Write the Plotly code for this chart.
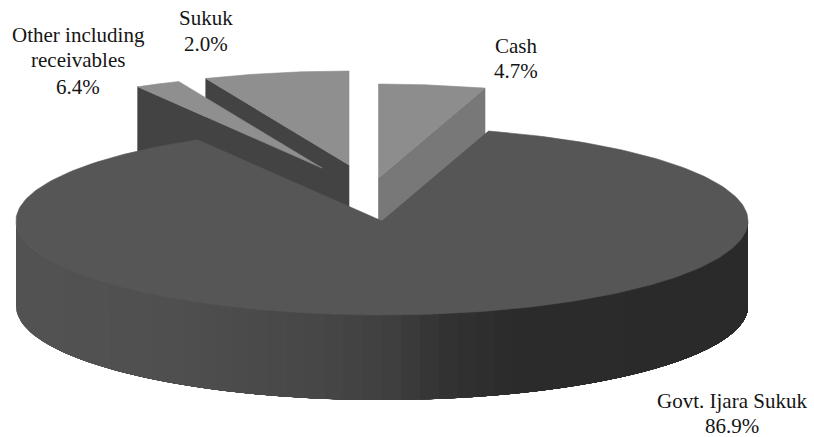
import numpy as np
import plotly.graph_objects as go

# Data (clockwise from 12 o'clock)
slice_names = ["Cash", "Govt. Ijara Sukuk", "Small slice", "Large slice"]
slice_shares = [4.7, 86.9, 2.0, 6.4]

label_lines = [
    ("Sukuk", 206, 18), ("2.0%", 206, 44),
    ("Other including", 78, 35), ("receivables", 78, 60), ("6.4%", 78, 87),
    ("Cash", 516, 46), ("4.7%", 516, 71),
    ("Govt. Ijara Sukuk", 732, 401), ("86.9%", 732, 426),
]

# Drawing geometry of the oblique pie
RX, RY, DEPTH = 366, 94, 85
apex = {"Cash": (378.5, 178), "Govt. Ijara Sukuk": (382, 221),
        "Small slice": (322, 168), "Large slice": (349, 165)}
top_col = {"Cash": "#8d8d8d", "Govt. Ijara Sukuk": "#565656",
           "Small slice": "#8f8f8f", "Large slice": "#8f8f8f"}
cut_col = {"Cash": "#787878", "Small slice": "#434343", "Large slice": "#434343"}
wall_stops_x = [16, 150, 300, 380, 430, 500, 748]
wall_stops_v = [83, 80, 72, 64, 52, 44, 42]

edges = np.cumsum([0] + slice_shares) * 3.6
span = {n: (np.radians(edges[i]), np.radians(edges[i + 1])) for i, n in enumerate(slice_names)}


def arc(name, n=240):
    a, b = span[name]
    cx, cy = apex[name]
    t = np.linspace(a, b, n)
    return cx + RX * np.sin(t), cy - RY * np.cos(t)


fig = go.Figure()


def poly(xs, ys, col, lw=0.6):
    fig.add_trace(go.Scatter(x=list(xs), y=list(ys), mode="lines", fill="toself",
                             fillcolor=col, line=dict(color=col, width=lw),
                             hoverinfo="skip", showlegend=False))


def wedge_top(name):
    x, y = arc(name)
    cx, cy = apex[name]
    poly([cx, *x, cx], [cy, *y, cy], top_col[name])


def cut_face(name, use_end):
    x, y = arc(name)
    cx, cy = apex[name]
    ex, ey = (x[-1], y[-1]) if use_end else (x[0], y[0])
    poly([cx, ex, ex, cx, cx], [cy, ey, ey + DEPTH, cy + DEPTH, cy], cut_col[name])


# Back wedges first
cut_face("Large slice", False)
wedge_top("Large slice")
cut_face("Small slice", False)
wedge_top("Small slice")
cut_face("Cash", True)
wedge_top("Cash")

# Main slice: outer wall painted left to right, each layer reaching the right end
cx, cy = apex["Govt. Ijara Sukuk"]
starts = np.radians(np.linspace(270, 90, 61))[:-1]
for t0 in starts:
    tt = np.linspace(t0, np.radians(90), 120)
    x = cx + RX * np.sin(tt)
    y = cy - RY * np.cos(tt)
    v = int(np.interp(x[0], wall_stops_x, wall_stops_v))
    poly([*x, *x[::-1]], [*y, *(y[::-1] + DEPTH)], f"rgb({v},{v},{v})", lw=0)
wedge_top("Govt. Ijara Sukuk")

for text, x, y in label_lines:
    fig.add_annotation(x=x, y=y, text=text, showarrow=False, xanchor="center", yanchor="middle",
                       font=dict(family="Liberation Serif", size=21, color="#151515"))

fig.update_layout(
    width=814, height=437, margin=dict(l=0, r=0, t=0, b=0),
    paper_bgcolor="white", plot_bgcolor="white", showlegend=False,
    xaxis=dict(range=[0, 814], visible=False, fixedrange=True),
    yaxis=dict(range=[437, 0], visible=False, fixedrange=True),
)
# Remove the page's default 8 px body margin so the figure fills the window
fig.write_html("out.html", config={"displayModeBar": False},
               post_script="document.body.style.margin='0';document.documentElement.style.overflow='hidden';")
